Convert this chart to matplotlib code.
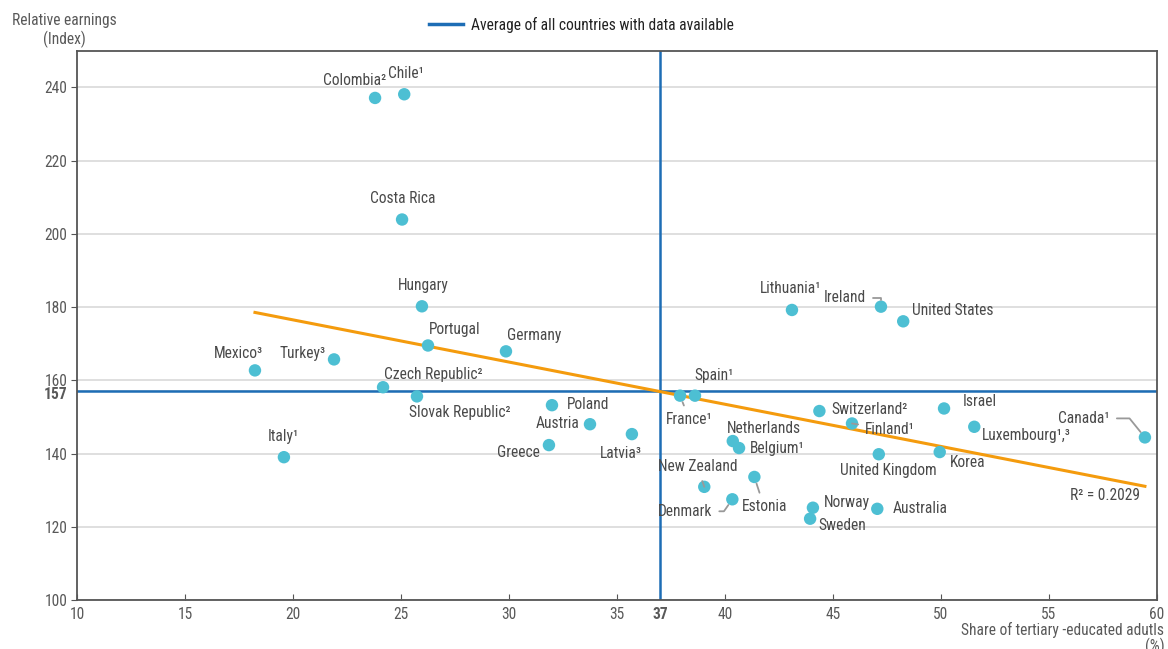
import numpy as np
import matplotlib.pyplot as plt
from matplotlib.lines import Line2D
import matplotlib.transforms as mtransforms

FONT = ['Roboto Condensed', 'Liberation Sans Narrow', 'Liberation Sans', 'DejaVu Sans']
plt.rcParams['font.family'] = FONT

# share of tertiary-educated adults (%) vs relative earnings (index)
countries = [
    "Colombia²", "Chile¹", "Costa Rica", "Hungary", "Portugal", "Germany",
    "Mexico³", "Turkey³", "Czech Republic²", "Slovak Republic²", "Poland",
    "Austria", "Greece", "Latvia³", "Italy¹", "Lithuania¹", "Ireland",
    "United States", "Spain¹", "France¹", "Switzerland²", "Israel",
    "Finland¹", "Luxembourg¹,³", "Canada¹", "Netherlands", "Belgium¹",
    "United Kingdom", "Korea", "New Zealand", "Estonia", "Denmark",
    "Norway", "Sweden", "Australia",
]
tertiary_share = [
    23.80, 25.15, 25.05, 25.97, 26.25, 29.86,
    18.24, 21.90, 24.17, 25.74, 31.99,
    33.75, 31.85, 35.69, 19.58, 43.10, 47.22,
    48.25, 38.61, 37.92, 44.37, 50.14,
    45.88, 51.54, 59.44, 40.36, 40.65,
    47.12, 49.94, 39.04, 41.36, 40.34,
    44.07, 43.94, 47.05,
]
relative_earnings = [
    237.1, 238.1, 203.9, 180.2, 169.5, 167.9,
    162.7, 165.7, 158.1, 155.6, 153.2,
    148.0, 142.3, 145.3, 139.0, 179.2, 180.1,
    176.1, 155.8, 155.8, 151.6, 152.3,
    148.2, 147.3, 144.4, 143.4, 141.5,
    139.8, 140.4, 130.9, 133.6, 127.5,
    125.2, 122.2, 124.9,
]
avg_share = 37
avg_earnings = 157
r_squared = 0.2029

# label placement: (ha, dx, dy) in pixels from the marker
label_pos = {
    "Colombia²": ("right", 11, 17), "Chile¹": ("center", 2, 21),
    "Costa Rica": ("center", 1, 21), "Hungary": ("center", 1, 21),
    "Portugal": ("left", 1, 16), "Germany": ("left", 1, 16),
    "Mexico³": ("right", 8, 17), "Turkey³": ("right", -8, 6),
    "Czech Republic²": ("left", 1, 13), "Slovak Republic²": ("left", -8, -16),
    "Poland": ("left", 15, 1), "Austria": ("right", -10, 1),
    "Greece": ("right", -9, -7), "Latvia³": ("right", 10, -19),
    "Italy¹": ("center", -1, 21), "Lithuania¹": ("center", -1, 21),
    "Ireland": ("right", -15, 9), "United States": ("left", 9, 11),
    "Spain¹": ("left", -1, 20), "France¹": ("left", -14, -24),
    "Switzerland²": ("left", 12, 2), "Israel": ("left", 19, 7),
    "Finland¹": ("left", 13, -6), "Luxembourg¹,³": ("left", 8, -9),
    "Canada¹": ("right", -35, 19), "Netherlands": ("left", -6, 13),
    "Belgium¹": ("left", 11, 0), "United Kingdom": ("center", 10, -16),
    "Korea": ("left", 10, -10), "New Zealand": ("center", -7, 20),
    "Estonia": ("left", -13, -30), "Denmark": ("right", -20, -12),
    "Norway": ("left", 11, 5), "Sweden": ("left", 8, -7),
    "Australia": ("left", 15, 0),
}
# leader lines for labels set away from their marker
leaders = {
    "Ireland": "angle,angleA=0,angleB=90,rad=0",
    "Canada¹": "angle,angleA=0,angleB=-51,rad=0",
    "Denmark": "angle,angleA=0,angleB=55,rad=0",
    "France¹": "arc3",
    "Finland¹": "arc3",
    "New Zealand": "arc3",
    "Estonia": "arc3",
}

DOT = '#4dbfd3'
TREND = '#f49b0d'
AVG = '#1d6db5'
TXT = '#4a4a4a'
GRID = '#d9d9d9'
FS = 11.2

fig = plt.figure(figsize=(11.68, 6.49), dpi=100)
ax = fig.add_axes([0.0659, 0.0755, 0.9247, 0.8464])

ax.set_xlim(10, 60)
ax.set_ylim(100, 250)
ax.yaxis.grid(True, color=GRID, lw=1.2, zorder=0)
ax.set_axisbelow(True)

for s in ax.spines.values():
    s.set_color('#555555')
    s.set_linewidth(1.3)

# average lines
ax.axvline(avg_share, color=AVG, lw=1.8, zorder=2)
ax.axhline(avg_earnings, color=AVG, lw=1.8, zorder=2)

# linear trend across the plotted countries
x = np.array(tertiary_share)
y = np.array(relative_earnings)
slope, intercept = np.polyfit(x, y, 1)
xs = np.array([x.min(), x.max()])
ax.plot(xs, slope * xs + intercept, color=TREND, lw=2.2, zorder=3)

ax.scatter(x, y, s=80, color=DOT, edgecolor='none', zorder=4)

for name, xi, yi in zip(countries, tertiary_share, relative_earnings):
    ha, dx, dy = label_pos[name]
    kw = {}
    if name in leaders:
        kw['arrowprops'] = dict(arrowstyle='-', color='#999999', lw=1.3,
                                shrinkA=3, shrinkB=5,
                                connectionstyle=leaders[name])
    ax.annotate(name, (xi, yi), xytext=(dx, dy), textcoords='offset pixels',
                ha=ha, va='center', fontsize=FS, color=TXT, zorder=5, **kw)

ax.text(0.984, 0.19, f"R² = {r_squared}", transform=ax.transAxes,
        ha='right', va='center', fontsize=FS, color=TXT)

# ticks, with the averages marked in bold
ax.set_xticks([10, 15, 20, 25, 30, 35, avg_share, 40, 45, 50, 55, 60])
ax.set_yticks([100, 120, avg_earnings, 140, 160, 180, 200, 220, 240])
ax.tick_params(axis='x', direction='in', length=4, color='#555555',
               labelsize=FS, labelcolor='#595959', pad=5)
ax.tick_params(axis='y', direction='out', length=4, color='#555555',
               labelsize=FS, labelcolor='#595959', pad=3)
for lbl in ax.get_xticklabels():
    if lbl.get_text() == str(avg_share):
        lbl.set_fontweight('bold')
for lbl in ax.get_yticklabels():
    if lbl.get_text() == str(avg_earnings):
        lbl.set_fontweight('bold')
        lbl.set_transform(lbl.get_transform() + mtransforms.ScaledTranslation(0, -2 / 100, fig.dpi_scale_trans))
for t in ax.xaxis.get_major_ticks():
    if t.get_loc() == avg_share:
        t.tick1line.set_visible(False)
for t in ax.yaxis.get_major_ticks():
    if t.get_loc() == avg_earnings:
        t.tick1line.set_visible(False)

fig.text(0.0552, 0.953, "Relative earnings\n(Index)", ha='center', va='center',
         fontsize=FS, color='#595959', linespacing=1.2)
fig.text(0.997, 0.0415, "Share of tertiary -educated adutls\n(%)", ha='right',
         va='top', fontsize=FS, color='#595959', linespacing=0.95,
         multialignment='right')

handle = Line2D([], [], color=AVG, lw=2.5)
fig.legend([handle], ["Average of all countries with data available"],
           loc='center', bbox_to_anchor=(0.498, 0.962), frameon=False,
           fontsize=FS, handlelength=2.2, handletextpad=0.5,
           labelcolor='#222222')

fig.savefig('out.png', dpi=100)
